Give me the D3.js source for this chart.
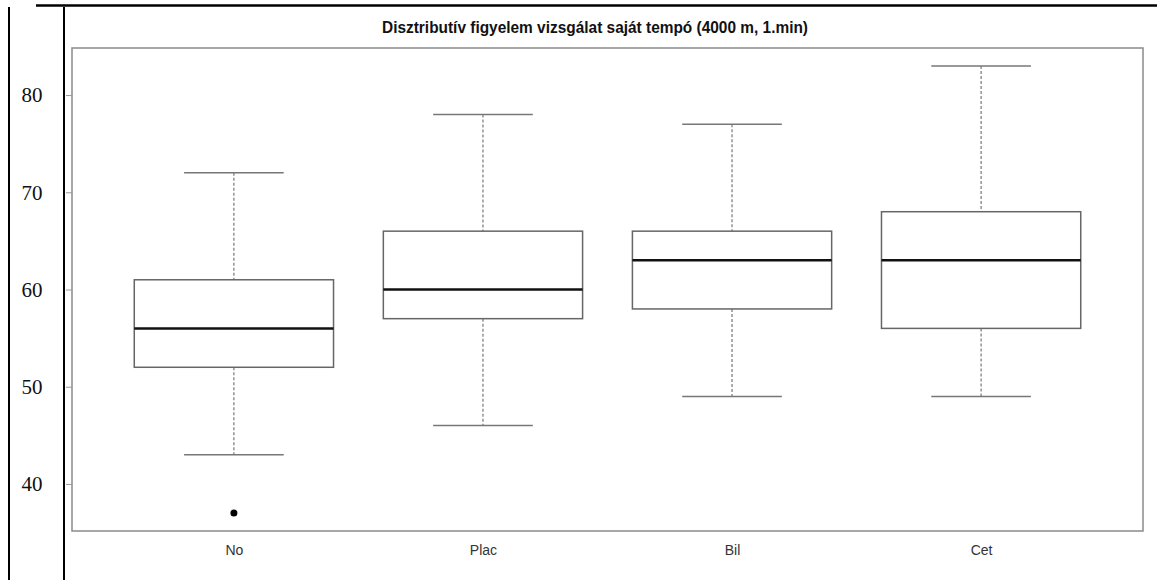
<!DOCTYPE html>
<html>
<head>
<meta charset="utf-8">
<script src="https://cdn.jsdelivr.net/npm/d3@7"></script>
<style>
  body { margin: 0; background: #fff; }
  svg { display: block; }
</style>
</head>
<body>
<div id="chart"></div>
<script>
// values
var groups = ["No", "Plac", "Bil", "Cet"];
var whiskerLow = [43, 46, 49, 49];
var q1 = [52, 57, 58, 56];
var medians = [56, 60, 63, 63];
var q3 = [61, 66, 66, 68];
var whiskerHigh = [72, 78, 77, 83];
var outliers = [{group: 0, value: 37}];
var yTicks = [40, 50, 60, 70, 80];
var title = "Disztributív figyelem vizsgálat saját tempó (4000 m, 1.min)";

var totalWidth = 1157, totalHeight = 580;
var plot = {left: 72, right: 1143, top: 48, bottom: 531};

var svg = d3.select("#chart")
  .append("svg")
    .attr("width", totalWidth)
    .attr("height", totalHeight);

// R style axis ranges (4% extension)
var x = d3.scaleLinear()
    .domain([0.35, 4.65])
    .range([plot.left, plot.right]);
var y = d3.scaleLinear()
    .domain([35.16, 84.84])
    .range([plot.bottom, plot.top]);

// the black frame of the table cell around the figure
svg.append("line")
  .attr("x1", 36).attr("x2", totalWidth)
  .attr("y1", 5.5).attr("y2", 5.5)
  .attr("stroke", "#000").attr("stroke-width", 2.5);
svg.append("line")
  .attr("x1", 9).attr("x2", 9)
  .attr("y1", 7).attr("y2", totalHeight)
  .attr("stroke", "#000").attr("stroke-width", 2);
svg.append("line")
  .attr("x1", 64).attr("x2", 64)
  .attr("y1", 7).attr("y2", totalHeight)
  .attr("stroke", "#000").attr("stroke-width", 2);

// plot box
svg.append("rect")
  .attr("x", plot.left).attr("y", plot.top)
  .attr("width", plot.right - plot.left)
  .attr("height", plot.bottom - plot.top)
  .attr("fill", "none")
  .attr("stroke", "#8a8a8a")
  .attr("stroke-width", 1.5);

// title
svg.append("text")
  .attr("x", 595)
  .attr("y", 33)
  .attr("text-anchor", "middle")
  .attr("textLength", 426)
  .attr("lengthAdjust", "spacingAndGlyphs")
  .style("font-family", "'Liberation Sans', Arial, sans-serif")
  .style("font-weight", "bold")
  .style("font-size", "17px")
  .style("fill", "#111")
  .text(title);

// y axis: ticks sit between the frame line and the plot box
var yAxis = svg.append("g")
  .attr("transform", "translate(" + plot.left + ",0)")
  .call(d3.axisLeft(y).tickValues(yTicks).tickSize(6).tickFormat(""));
yAxis.select(".domain").remove();
yAxis.selectAll(".tick line").attr("stroke", "#999");

svg.selectAll(".ylab")
  .data(yTicks)
  .enter()
  .append("text")
    .attr("class", "ylab")
    .attr("x", 32)
    .attr("y", function(d) { return y(d); })
    .attr("dy", "0.35em")
    .attr("text-anchor", "middle")
    .style("font-family", "'Liberation Serif', 'Times New Roman', serif")
    .style("font-size", "21px")
    .style("fill", "#111")
    .text(function(d) { return d; });

// x labels
var xAxis = svg.append("g")
  .attr("transform", "translate(0," + plot.bottom + ")")
  .call(d3.axisBottom(x).tickValues([1, 2, 3, 4]).tickSize(0)
        .tickFormat(function(d) { return groups[d - 1]; }));
xAxis.select(".domain").remove();
xAxis.selectAll("text")
  .attr("y", 14)
  .style("font-family", "'Liberation Sans', Arial, sans-serif")
  .style("font-size", "14px")
  .style("fill", "#333");

// boxes
var boxHalf = 0.4, capHalf = 0.2;
var boxes = svg.selectAll(".box")
  .data(groups)
  .enter()
  .append("g")
    .attr("class", "box");

// whiskers (dashed)
boxes.append("line")
  .attr("x1", function(d, i) { return x(i + 1); })
  .attr("x2", function(d, i) { return x(i + 1); })
  .attr("y1", function(d, i) { return y(whiskerHigh[i]); })
  .attr("y2", function(d, i) { return y(q3[i]); })
  .attr("stroke", "#777").attr("stroke-width", 1.2)
  .attr("stroke-dasharray", "3,2");
boxes.append("line")
  .attr("x1", function(d, i) { return x(i + 1); })
  .attr("x2", function(d, i) { return x(i + 1); })
  .attr("y1", function(d, i) { return y(q1[i]); })
  .attr("y2", function(d, i) { return y(whiskerLow[i]); })
  .attr("stroke", "#777").attr("stroke-width", 1.2)
  .attr("stroke-dasharray", "3,2");

// caps
boxes.append("line")
  .attr("x1", function(d, i) { return x(i + 1 - capHalf); })
  .attr("x2", function(d, i) { return x(i + 1 + capHalf); })
  .attr("y1", function(d, i) { return y(whiskerHigh[i]); })
  .attr("y2", function(d, i) { return y(whiskerHigh[i]); })
  .attr("stroke", "#777").attr("stroke-width", 1.5);
boxes.append("line")
  .attr("x1", function(d, i) { return x(i + 1 - capHalf); })
  .attr("x2", function(d, i) { return x(i + 1 + capHalf); })
  .attr("y1", function(d, i) { return y(whiskerLow[i]); })
  .attr("y2", function(d, i) { return y(whiskerLow[i]); })
  .attr("stroke", "#777").attr("stroke-width", 1.5);

// the box itself
boxes.append("rect")
  .attr("x", function(d, i) { return x(i + 1 - boxHalf); })
  .attr("y", function(d, i) { return y(q3[i]); })
  .attr("width", function(d, i) { return x(i + 1 + boxHalf) - x(i + 1 - boxHalf); })
  .attr("height", function(d, i) { return y(q1[i]) - y(q3[i]); })
  .attr("fill", "#fff")
  .attr("stroke", "#666")
  .attr("stroke-width", 1.5);

// median
boxes.append("line")
  .attr("x1", function(d, i) { return x(i + 1 - boxHalf); })
  .attr("x2", function(d, i) { return x(i + 1 + boxHalf); })
  .attr("y1", function(d, i) { return y(medians[i]); })
  .attr("y2", function(d, i) { return y(medians[i]); })
  .attr("stroke", "#111").attr("stroke-width", 2.5);

// outliers
svg.selectAll(".outlier")
  .data(outliers)
  .enter()
  .append("circle")
    .attr("class", "outlier")
    .attr("cx", function(d) { return x(d.group + 1); })
    .attr("cy", function(d) { return y(d.value); })
    .attr("r", 3.5)
    .attr("fill", "#000");
</script>
</body>
</html>
